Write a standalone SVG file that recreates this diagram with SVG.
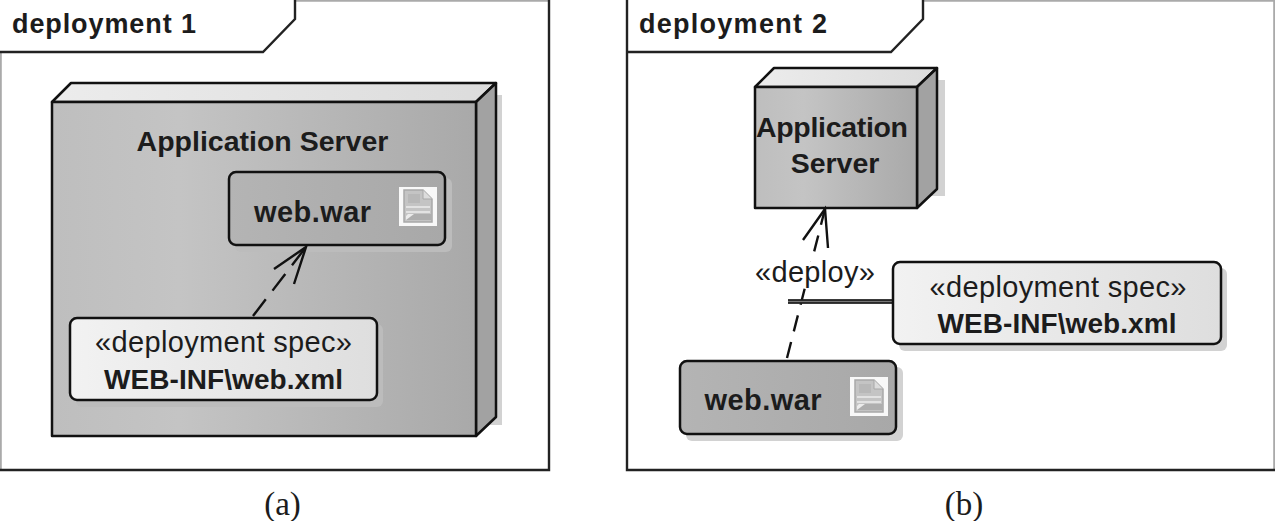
<svg xmlns="http://www.w3.org/2000/svg" width="1275" height="521" viewBox="0 0 1275 521">
<style>
text{font-family:"Liberation Sans",Arial,sans-serif;fill:#1c1c1c}
.b{font-weight:700;font-size:28.500px;text-anchor:middle}
.w{font-weight:700;font-size:29px;text-anchor:middle}
.x{font-weight:700;font-size:28px;text-anchor:middle}
.r{font-size:29px;text-anchor:middle}
.t{font-weight:700;font-size:27px}
.cap{font-family:"Liberation Serif",serif;font-size:33px;text-anchor:middle}
.line{fill:none;stroke:#222;stroke-width:2.400}
.edge{stroke:#aaa;stroke-width:1.800;fill:none}
.o{stroke:#111;stroke-width:2.500;stroke-linejoin:round}
.shadow{fill:#d2d2d2}
.inner{fill:#bcbcbc}
.top{fill:url(#topg)}
.side{fill:#a2a2a2}
.dash{stroke:#111;stroke-width:2.400;fill:none}
.head{stroke:#111;stroke-width:2.400;fill:none}
</style>
<defs>
<linearGradient id="g"><stop offset="0" stop-color="#bebebe"/><stop offset=".3" stop-color="#c4c4c4"/><stop offset="1" stop-color="#a9a9a9"/></linearGradient>
<linearGradient id="wg"><stop offset="0" stop-color="#b4b4b4"/><stop offset="1" stop-color="#a8a8a8"/></linearGradient>
<linearGradient id="lt"><stop offset="0" stop-color="#f2f2f2"/><stop offset="1" stop-color="#dedede"/></linearGradient>
<linearGradient id="topg"><stop offset="0" stop-color="#ececec"/><stop offset="1" stop-color="#dcdcdc"/></linearGradient>
<g id="doc">
<rect width="38" height="39" fill="#f8f8f8"/>
<path d="M5 3H24L33 12V35H5Z" fill="#c4c4c4" stroke="#a8a8a8" stroke-width="1.500"/>
<path d="M24 3V12H33" fill="#dcdcdc" stroke="#a8a8a8" stroke-width="1"/>
<path d="M9 7H21V16H9Z" fill="#b8b8b8"/>
<path d="M7 20H31M7 25H31" stroke="#e2e2e2" stroke-width="2"/>
<path d="M7 33V29L14 27H32V33Z" fill="#aeaeae"/>
<path d="M7 33L15 27H9L7 29Z" fill="#ececec"/>
</g>
</defs>

<g id="frame1">
<rect width="549" height="470" fill="#fff"/>
<path class="edge" d="M295 .9H549M.9 52V470"/>
<path class="line" d="M549 0V470H0"/>
<path class="line" d="M0 52H263L295 19V0"/>
<text class="t" x="12" y="33" textLength="184" xml:space="preserve">deployment 1</text>
</g>

<g id="node1">
<rect class="shadow" x="480" y="95" width="22" height="330"/>
<path class="top o" d="M52 102L71 83H496L476 102Z"/>
<path class="side o" d="M476 102L496 83V417L476 436Z"/>
<rect class="o" x="52" y="102" width="424" height="334" fill="url(#g)"/>
<text class="b" x="262.500" y="151">Application Server</text>
</g>

<g id="war1">
<rect class="inner" x="235" y="178" width="217" height="74" rx="6"/>
<rect class="o" x="229" y="172" width="216" height="73" rx="7" fill="url(#wg)"/>
<text class="w" x="312.500" y="222" textLength="117">web.war</text>
<use href="#doc" x="399" y="187"/>
</g>

<g id="spec1">
<rect class="inner" x="76" y="324" width="307" height="83" rx="6"/>
<rect class="o" x="70" y="318" width="307" height="82" rx="7" fill="url(#lt)"/>
<text class="r" x="223.500" y="352" textLength="257">«deployment spec»</text>
<text class="x" x="223.500" y="389" textLength="239">WEB-INF\web.xml</text>
</g>

<g id="frame2">
<path class="edge" d="M923 .9H1275M1274.100 0V470"/>
<path class="line" d="M627 0V470H1275"/>
<path class="line" d="M627 52H891L923 19V0"/>
<text class="t" x="639" y="33" textLength="188" xml:space="preserve">deployment 2</text>
</g>

<g id="node2">
<rect class="shadow" x="920" y="80" width="25" height="116"/>
<path class="top o" d="M755 87L774 68H937L917 87Z"/>
<path class="side o" d="M917 87L937 68V189L917 208Z"/>
<rect class="o" x="755" y="87" width="162" height="121" fill="url(#g)"/>
<text class="b" x="832" y="137" textLength="152">Application</text>
<text class="b" x="835" y="173">Server</text>
</g>

<g id="connectors">
<path class="dash" d="M253 316L306 247" stroke-dasharray="21 11"/>
<path class="head" d="M274 269L306 247L294 284"/>
<path class="dash" d="M787 358L825 209" stroke-dasharray="16.500 11"/>
<path class="head" d="M803 240L825 209L828 248"/>
<path d="M788 301.500H893" stroke="#777" stroke-width="4" fill="none"/>
<path d="M788 300H893M788 303H893" stroke="#111" stroke-width="1.700" fill="none"/>
</g>

<g id="deploy">
<rect x="755" y="262" width="120" height="26" fill="#fff"/>
<text class="r" x="815" y="282" textLength="120">«deploy»</text>
</g>

<g id="spec2">
<rect class="shadow" x="899" y="268" width="328" height="83" rx="6"/>
<rect class="o" x="893" y="262" width="328" height="82" rx="7" fill="url(#lt)"/>
<text class="r" x="1058" y="297" textLength="257">«deployment spec»</text>
<text class="x" x="1057" y="333" textLength="239">WEB-INF\web.xml</text>
</g>

<g id="war2">
<rect class="shadow" x="686" y="367" width="217" height="74" rx="6"/>
<rect class="o" x="680" y="361" width="216" height="73" rx="7" fill="url(#wg)"/>
<text class="w" x="763" y="410" textLength="117">web.war</text>
<use href="#doc" x="850" y="377"/>
</g>

<text class="cap" x="282.500" y="515">(a)</text>
<text class="cap" x="964" y="515">(b)</text>
</svg>
